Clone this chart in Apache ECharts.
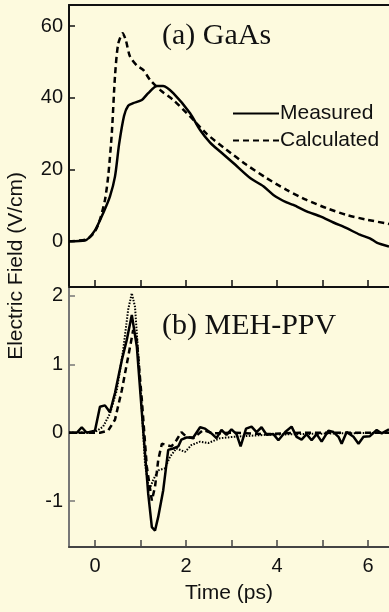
<!DOCTYPE html>
<html>
<head>
<meta charset="utf-8">
<script src="https://cdn.jsdelivr.net/npm/echarts@6/dist/echarts.min.js"></script>
<style>
html,body{margin:0;padding:0;background:#fdfade;}
#chart{width:389px;height:612px;}
</style>
</head>
<body>
<div id="chart"></div>
<script>
// ---- Data ----
const xTicks = [0, 1, 2, 3, 4, 5, 6];
const xLabels = [0, 2, 4, 6];
const topYTicks = [0, 20, 40, 60];
const botYTicks = [-1, 0, 1, 2];

// (a) GaAs – measured (solid)
const gaasMeasT = [-0.57,-0.22,0.0,0.18,0.33,0.44,0.53,0.64,0.73,0.84,1.03,1.17,1.36,1.5,1.72,2.09,2.31,2.53,2.75,3.04,3.41,3.7,3.92,4.21,4.36,4.65,4.95,5.24,5.53,5.82,6.04,6.19,6.46];
const gaasMeasE = [0,0.2,3,7.8,12.5,18,27,35,37.8,38.5,39.4,41.3,43.3,43.3,41.3,35.7,31,27.5,25,21.8,17.6,15.3,12.9,10.8,10.1,8.3,6.9,5.2,3.6,1.8,0.8,-0.4,-1.5];
// (a) GaAs – calculated (dashed)
const gaasCalcT = [-0.57,-0.18,0.0,0.11,0.22,0.29,0.37,0.44,0.51,0.61,0.68,0.77,0.92,1.06,1.21,1.43,1.72,2.09,2.45,2.89,3.33,3.77,4.21,4.65,5.09,5.53,5.97,6.46];
const gaasCalcE = [0,0.5,2.7,6,11.5,18,30,46,55,58,56,51.5,49,47.8,45,42.2,39.4,34.8,30,25.5,21.3,17.6,14.3,11.5,9.2,7.3,6,4.8];

// (b) MEH-PPV – solid
const ppvSolidT = [-0.57,-0.4,-0.29,-0.18,0,0.11,0.22,0.33,0.44,0.59,0.7,0.81,0.92,1.06,1.17,1.25,1.32,1.39,1.5,1.61,1.72,1.83,1.9,2.01,2.16,2.31,2.42,2.56,2.67,2.78,2.89,3.0,3.11,3.2,3.32,3.44,3.55,3.66,3.77,3.92,4.03,4.18,4.32,4.43,4.54,4.65,4.76,4.87,4.98,5.13,5.24,5.35,5.42,5.53,5.68,5.79,5.9,6.04,6.19,6.3,6.46];
const ppvSolidE = [0,0,0.08,0,0.03,0.38,0.4,0.3,0.58,1.06,1.36,1.72,1.26,0.04,-0.89,-1.38,-1.43,-1.23,-0.84,-0.25,-0.23,-0.2,-0.1,-0.07,-0.07,0.08,0.06,-0.01,-0.08,0.04,-0.03,0.05,-0.02,-0.2,0.06,0.09,0.01,0.08,-0.03,-0.02,-0.11,0.01,0.09,-0.06,-0.1,-0.02,-0.11,-0.02,-0.13,0.03,0.01,-0.06,-0.16,0.01,-0.06,-0.16,-0.06,-0.05,0.04,-0.01,0.05];
// (b) MEH-PPV – dashed
const ppvDashT = [-0.57,0.11,0.29,0.44,0.59,0.73,0.84,0.92,1.03,1.14,1.25,1.32,1.39,1.47,1.58,1.68,1.79,1.9,2.01,2.16,2.38,2.6,3.04,3.77,4.5,5.24,6.46];
const ppvDashE = [0,0,0.03,0.19,0.62,1.11,1.5,1.36,0.48,-0.5,-0.99,-0.79,-0.4,-0.16,-0.18,-0.2,-0.11,0.01,-0.06,-0.08,0.04,-0.01,0,-0.02,0,0,0];
// (b) MEH-PPV – dotted
const ppvDotT = [-0.57,0,0.18,0.33,0.48,0.62,0.73,0.81,0.88,0.99,1.1,1.19,1.28,1.39,1.54,1.65,1.79,1.98,2.12,2.31,2.49,2.75,3.04,3.77,4.5,5.24,6.46];
const ppvDotE = [0,0.01,0.09,0.28,0.62,1.21,1.8,2.04,1.84,0.77,-0.45,-0.84,-0.69,-0.55,-0.52,-0.35,-0.23,-0.28,-0.18,-0.13,-0.15,-0.08,-0.06,-0.03,-0.02,-0.01,0];

const zip = (t, e) => t.map((v, i) => [v, e[i]]);

const chart = echarts.init(document.getElementById('chart'), null, {renderer: 'canvas'});
const axisFont = {fontFamily: 'Liberation Sans, Arial, sans-serif', fontSize: 20, color: '#111'};

const option = {
  backgroundColor: '#fdfade',
  animation: false,
  grid: [
    {left: 69, right: 0, top: 5, height: 282},
    {left: 69, right: 0, top: 287, height: 260}
  ],
  title: [
    {text: '(a) GaAs', left: 157, top: 16, textStyle: {fontFamily: 'Liberation Serif, Times New Roman, serif', fontSize: 30, fontWeight: 'normal', color: '#111'}},
    {text: '(b) MEH-PPV', left: 157, top: 306, textStyle: {fontFamily: 'Liberation Serif, Times New Roman, serif', fontSize: 30, fontWeight: 'normal', color: '#111'}}
  ],
  legend: {
    data: ['Measured', 'Calculated'],
    orient: 'vertical',
    left: 227, top: 98,
    itemWidth: 46, itemHeight: 14, itemGap: 6,
    itemStyle: {opacity: 0},
    textStyle: {fontFamily: 'Liberation Sans, Arial, sans-serif', fontSize: 21, color: '#111', padding: [0,0,0,-4]}
  },
  graphic: [
    {type: 'text', left: 6, top: 172, rotation: Math.PI/2,
     style: {text: 'Electric Field (V/cm)', fontFamily: 'Liberation Sans, Arial, sans-serif', fontSize: 21, fill: '#111'}}
  ],
  xAxis: [
    {gridIndex: 0, type: 'value', min: -0.57, max: 6.46, position: 'bottom',
     axisLine: {show: true, onZero: false, lineStyle: {color: '#111', width: 2}},
     axisTick: {show: true, inside: true, length: 7, customValues: xTicks, lineStyle: {color: '#111', width: 1.5}},
     axisLabel: {show: false}, splitLine: {show: false}},
    {gridIndex: 0, type: 'value', min: -0.57, max: 6.46, position: 'top',
     axisLine: {show: true, onZero: false, lineStyle: {color: '#111', width: 2}},
     axisTick: {show: false}, axisLabel: {show: false}, splitLine: {show: false}},
    {gridIndex: 1, type: 'value', min: -0.57, max: 6.46, position: 'bottom',
     name: 'Time (ps)', nameLocation: 'middle', nameGap: 36,
     nameTextStyle: {...axisFont, fontSize: 21},
     axisLine: {show: true, onZero: false, lineStyle: {color: '#444', width: 2}},
     axisTick: {show: true, inside: true, length: 7, customValues: xTicks, lineStyle: {color: '#444', width: 1.5}},
     axisLabel: {show: true, margin: 9, customValues: xLabels, ...axisFont},
     splitLine: {show: false}}
  ],
  yAxis: [
    {gridIndex: 0, type: 'value', min: -12.8, max: 65.9,
     axisLine: {show: true, onZero: false, lineStyle: {color: '#111', width: 2}},
     axisTick: {show: true, inside: true, length: 6, customValues: topYTicks, lineStyle: {color: '#111', width: 1.5}},
     axisLabel: {show: true, margin: 6, customValues: topYTicks, ...axisFont},
     splitLine: {show: false}},
    {gridIndex: 1, type: 'value', min: -1.67, max: 2.13,
     axisLine: {show: true, onZero: false, lineStyle: {color: '#777', width: 2}},
     axisTick: {show: true, inside: true, length: 6, customValues: botYTicks, lineStyle: {color: '#777', width: 1.5}},
     axisLabel: {show: true, margin: 6, customValues: botYTicks, ...axisFont},
     splitLine: {show: false}}
  ],
  series: [
    {name: 'Measured', type: 'line', xAxisIndex: 0, yAxisIndex: 0, data: zip(gaasMeasT, gaasMeasE),
     smooth: 0.25, symbol: 'none', lineStyle: {color: '#000', width: 2.5, type: 'solid'}, itemStyle: {color: '#000'}},
    {name: 'Calculated', type: 'line', xAxisIndex: 0, yAxisIndex: 0, data: zip(gaasCalcT, gaasCalcE),
     smooth: 0.25, symbol: 'none', lineStyle: {color: '#000', width: 2.5, type: [6, 4]}, itemStyle: {color: '#000'}},
    {name: 'PPV measured', type: 'line', xAxisIndex: 2, yAxisIndex: 1, data: zip(ppvSolidT, ppvSolidE),
     symbol: 'none', lineStyle: {color: '#000', width: 2.5, type: 'solid'}},
    {name: 'PPV dashed', type: 'line', xAxisIndex: 2, yAxisIndex: 1, data: zip(ppvDashT, ppvDashE),
     symbol: 'none', lineStyle: {color: '#000', width: 2.5, type: [6, 4]}},
    {name: 'PPV dotted', type: 'line', xAxisIndex: 2, yAxisIndex: 1, data: zip(ppvDotT, ppvDotE),
     symbol: 'none', lineStyle: {color: '#000', width: 2, type: [1.5, 1.5]}}
  ]
};
chart.setOption(option);
</script>
</body>
</html>
